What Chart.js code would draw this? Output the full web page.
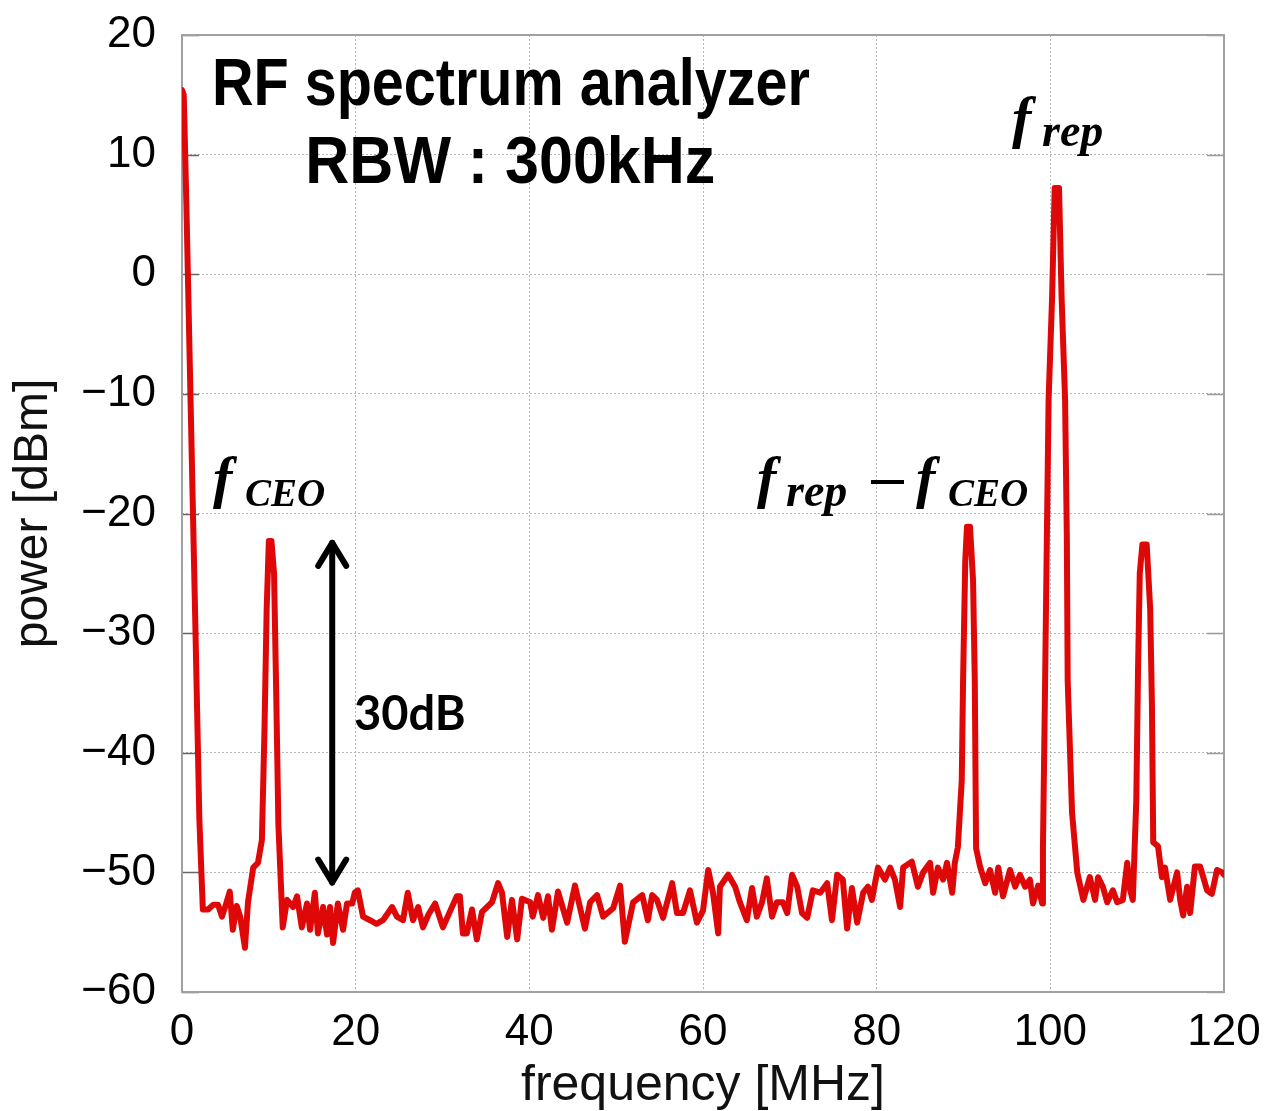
<!DOCTYPE html>
<html>
<head>
<meta charset="utf-8">
<script src="https://cdn.jsdelivr.net/npm/chart.js@4.4.1/dist/chart.umd.min.js"></script>
<style>
  html, body { margin: 0; padding: 0; background: #fff; }
  #wrap { width: 1269px; height: 1111px; }
</style>
</head>
<body>
<div id="wrap"><canvas id="spectrum"></canvas></div>
<script>
// RF spectrum, values
const freqMHz = [
  0, 0.2, 0.5, 1.0, 1.5, 2.0, 2.4, 3.0, 3.6, 4.15, 4.6, 5.05, 5.5, 5.85, 6.3, 6.7, 7.25, 7.6, 8.2, 8.75,
  9.2, 9.5, 9.75, 10.0, 10.3, 10.6, 10.85, 11.1, 11.6, 12.1, 12.8, 13.25, 13.8, 14.4, 14.75, 15.3, 15.65, 16.25, 16.7, 17.05,
  17.4, 17.95, 18.55, 19.0, 19.6, 19.9, 20.25, 20.85, 21.65, 22.4, 23.15, 24.2, 24.75, 25.45, 26.0, 26.6, 27.2, 27.75, 28.4, 29.15,
  30.05, 30.9, 31.65, 32.0, 32.35, 32.8, 33.4, 33.95, 34.55, 35.7, 36.4, 36.85, 37.45, 38.0, 38.6, 39.15, 40.1, 40.4, 41.0, 41.6,
  42.15, 42.6, 43.3, 44.35, 45.25, 46.4, 47.0, 47.8, 48.5, 49.65, 50.45, 51.0, 51.95, 53.0, 53.65, 54.15, 54.7, 55.4, 56.45, 57.0,
  57.7, 58.5, 59.3, 60.0, 60.6, 61.15, 61.75, 61.95, 62.9, 63.7, 64.25, 65.05, 65.65, 66.2, 66.8, 67.35, 67.95, 68.5, 69.2, 69.7,
  70.25, 70.85, 71.4, 72.0, 72.65, 73.5, 74.3, 74.85, 75.45, 76.1, 76.6, 77.15, 77.75, 78.45, 79.0, 79.45, 80.15, 80.95, 81.55, 82.1,
  82.7, 83.05, 84.05, 84.75, 85.35, 86.15, 86.5, 87.05, 87.65, 88.1, 88.7, 89.0, 89.35, 89.8, 89.95, 90.2, 90.4, 90.75, 91.1, 91.3,
  91.45, 91.9, 92.5, 93.05, 93.65, 94.0, 94.55, 95.35, 95.95, 96.5, 97.1, 97.65, 98.0, 98.6, 99.05, 99.15, 99.4, 99.6, 99.8, 100.2,
  100.5, 101.0, 101.3, 101.7, 101.9, 102.0, 102.5, 103.1, 103.8, 104.55, 105.15, 105.5, 106.05, 106.55, 107.2, 107.7, 108.35, 108.85, 109.2, 109.5,
  109.9, 110.1, 110.3, 110.6, 111.1, 111.5, 111.7, 111.85, 112.4, 112.85, 113.2, 113.8, 114.6, 114.95, 115.3, 115.75, 116.1, 116.65, 117.25, 118.05,
  118.6, 119.2, 119.8, 120
];
const powerDbm = [
  15.4, 15.0, 6, -11, -28, -45.6, -53.1, -53.1, -52.7, -52.7, -53.7, -52.7, -51.6, -54.8, -52.8, -53.7, -56.3, -52.5, -49.6, -49.2,
  -47.3, -38, -28, -22.3, -22.3, -25, -35, -46, -54.6, -52.3, -52.9, -52, -54.6, -52.6, -54.8, -51.7, -55.1, -52.9, -55.2, -52.9,
  -55.9, -52.6, -54.8, -52.6, -52.6, -51.7, -51.5, -53.7, -54, -54.3, -54, -52.9, -53.7, -54, -51.7, -54, -52.9, -54.6, -53.5, -52.6,
  -54.6, -53.2, -52, -52, -55.1, -55.1, -53.1, -55.6, -53.3, -52.5, -50.9, -51.7, -55.4, -52.3, -55.6, -52.2, -52.5, -53.7, -51.9, -53.8,
  -52, -54.8, -51.6, -54.2, -51.1, -54.7, -52.5, -51.9, -53.7, -53, -51.1, -55.8, -52.5, -51.9, -54, -51.9, -52.3, -53.8, -50.9, -53.4,
  -53.4, -51.5, -54.2, -53.2, -49.8, -51.7, -55.1, -51.2, -50.2, -51.2, -52.5, -54, -51.3, -53.7, -52.5, -50.5, -53.7, -52.5, -52.5, -53.4,
  -50.2, -51.2, -53.4, -53.8, -51.5, -51.7, -50.9, -54, -50.2, -50.6, -54.7, -51.3, -54.2, -51.7, -51.2, -52.3, -49.6, -50.6, -49.6, -50.6,
  -52.9, -49.6, -49.1, -51.2, -50, -49.2, -51.7, -49.6, -50.6, -49.2, -51.7, -49.2, -47.9, -42.3, -34, -24, -21.1, -21.1, -25.6, -34,
  -48, -49.5, -50.9, -49.8, -51.7, -49.6, -52, -49.8, -51.2, -50.2, -51.2, -50.6, -52.6, -51.1, -52.6, -47.9, -34, -22, -10.5, -2,
  7.2, 7.2, -2, -10.5, -22, -34, -45, -50, -52.3, -50.4, -52.3, -50.4, -51.2, -52.5, -51.5, -52.5, -52.3, -49.2, -51.5, -52.3,
  -44, -33, -25, -22.6, -22.6, -28, -36, -47.5, -47.8, -50.4, -49.6, -52.3, -50, -52.3, -53.6, -51.2, -53.4, -49.5, -49.5, -51.5,
  -51.8, -49.8, -50, -50.2
];

const xRange = [0, 120];
const yRange = [-60, 20];

const sansFont = '"Liberation Sans", Arial, sans-serif';
const mathFont = '"Liberation Serif", "Times New Roman", serif';

function drawLine(ctx, x1, y1, x2, y2) {
  ctx.beginPath();
  ctx.moveTo(x1, y1);
  ctx.lineTo(x2, y2);
  ctx.stroke();
}

// f with a subscript
function drawSub(ctx, x, y, sub, subSize, gap) {
  ctx.font = 'italic bold 58px ' + mathFont;
  ctx.fillText('f', x, y);
  ctx.font = 'italic bold ' + subSize + 'px ' + mathFont;
  ctx.fillText(sub, x + gap, y + 9);
}

const overlay = {
  id: 'overlay',
  beforeDatasetsDraw(chart) {
    const { ctx, chartArea: a, scales: { y } } = chart;
    ctx.save();
    ctx.lineWidth = 1.5;
    y.ticks.forEach(t => {
      const py = Math.round(y.getPixelForValue(t.value)) + 0.5;
      ctx.strokeStyle = '#666';
      drawLine(ctx, a.left, py, a.left + 17, py);
      ctx.strokeStyle = '#999';
      drawLine(ctx, a.right - 17, py, a.right, py);
    });
    ctx.strokeStyle = '#a0a0a0';
    ctx.lineWidth = 2;
    ctx.strokeRect(a.left, a.top, a.right - a.left, a.bottom - a.top);
    ctx.restore();
  },
  afterDraw(chart) {
    const { ctx, scales: { x, y } } = chart;
    ctx.save();
    ctx.fillStyle = '#000';
    ctx.textBaseline = 'alphabetic';
    ctx.textAlign = 'left';

    ctx.font = 'bold 66px ' + sansFont;
    ctx.fillText('RF spectrum analyzer', x.getPixelForValue(3.45), y.getPixelForValue(14.15), 598);
    ctx.fillText('RBW : 300kHz', x.getPixelForValue(14.2), y.getPixelForValue(7.63), 410);

    // peak labels
    drawSub(ctx, 213, 497, 'CEO', 39, 32);
    drawSub(ctx, 1012, 137, 'rep', 46, 30);
    drawSub(ctx, 757, 497, 'rep', 46, 29);
    ctx.strokeStyle = '#000';
    ctx.lineWidth = 4;
    drawLine(ctx, 871, 482, 904, 482);
    drawSub(ctx, 916, 497, 'CEO', 39, 32);

    // 30 dB arrow
    const ax = x.getPixelForValue(17.3);
    const top = y.getPixelForValue(-22.2);
    const bot = y.getPixelForValue(-51.1);
    ctx.lineWidth = 6;
    ctx.lineCap = 'round';
    ctx.lineJoin = 'round';
    drawLine(ctx, ax, top + 3, ax, bot - 3);
    ctx.beginPath();
    ctx.moveTo(ax - 14, top + 26); ctx.lineTo(ax, top + 3); ctx.lineTo(ax + 14, top + 26);
    ctx.moveTo(ax - 14, bot - 26); ctx.lineTo(ax, bot - 3); ctx.lineTo(ax + 14, bot - 26);
    ctx.stroke();

    ctx.font = 'bold 47px Lato, "Open Sans", sans-serif';
    ctx.textBaseline = 'middle';
    ctx.fillText('30dB', 354, 715);
    ctx.restore();
  }
};

new Chart(document.getElementById('spectrum'), {
  type: 'line',
  data: {
    datasets: [{
      label: 'power',
      data: freqMHz.map((f, i) => ({ x: f, y: powerDbm[i] })),
      borderColor: '#df0808',
      borderWidth: 6,
      borderJoinStyle: 'round',
      borderCapStyle: 'round',
      pointRadius: 0,
      tension: 0,
      fill: false
    }]
  },
  options: {
    responsive: true,
    maintainAspectRatio: false,
    animation: false,
    layout: { padding: { top: 35, right: 45, left: 0, bottom: 0 } },
    plugins: {
      legend: { display: false },
      tooltip: { enabled: false }
    },
    scales: {
      x: {
        type: 'linear',
        min: xRange[0],
        max: xRange[1],
        afterFit: s => { s.height = 119; },
        ticks: {
          stepSize: 20,
          color: '#000',
          padding: 0,
          font: { family: sansFont, size: 44 }
        },
        grid: { color: '#b4b4b4', lineWidth: 1, drawTicks: true, tickLength: 14, tickColor: 'rgba(0,0,0,0)' },
        border: { display: false, dash: [2, 2] },
        title: {
          display: true,
          text: 'frequency [MHz]',
          color: '#111',
          font: { family: sansFont, size: 50, lineHeight: 1.0 },
          padding: { top: 0, bottom: 0 }
        }
      },
      y: {
        min: yRange[0],
        max: yRange[1],
        afterFit: s => { s.width = 182; },
        ticks: {
          stepSize: 10,
          color: '#000',
          padding: 0,
          font: { family: sansFont, size: 44 },
          callback: v => String(v).replace('-', '\u2212')
        },
        grid: { color: '#b4b4b4', lineWidth: 1, drawTicks: true, tickLength: 26, tickColor: 'rgba(0,0,0,0)' },
        border: { display: false, dash: [2, 2] },
        title: {
          display: true,
          text: 'power [dBm]',
          color: '#111',
          font: { family: sansFont, size: 48, lineHeight: 1.2 },
          padding: { top: 5, bottom: 0 }
        }
      }
    }
  },
  plugins: [overlay]
});
</script>
</body>
</html>
